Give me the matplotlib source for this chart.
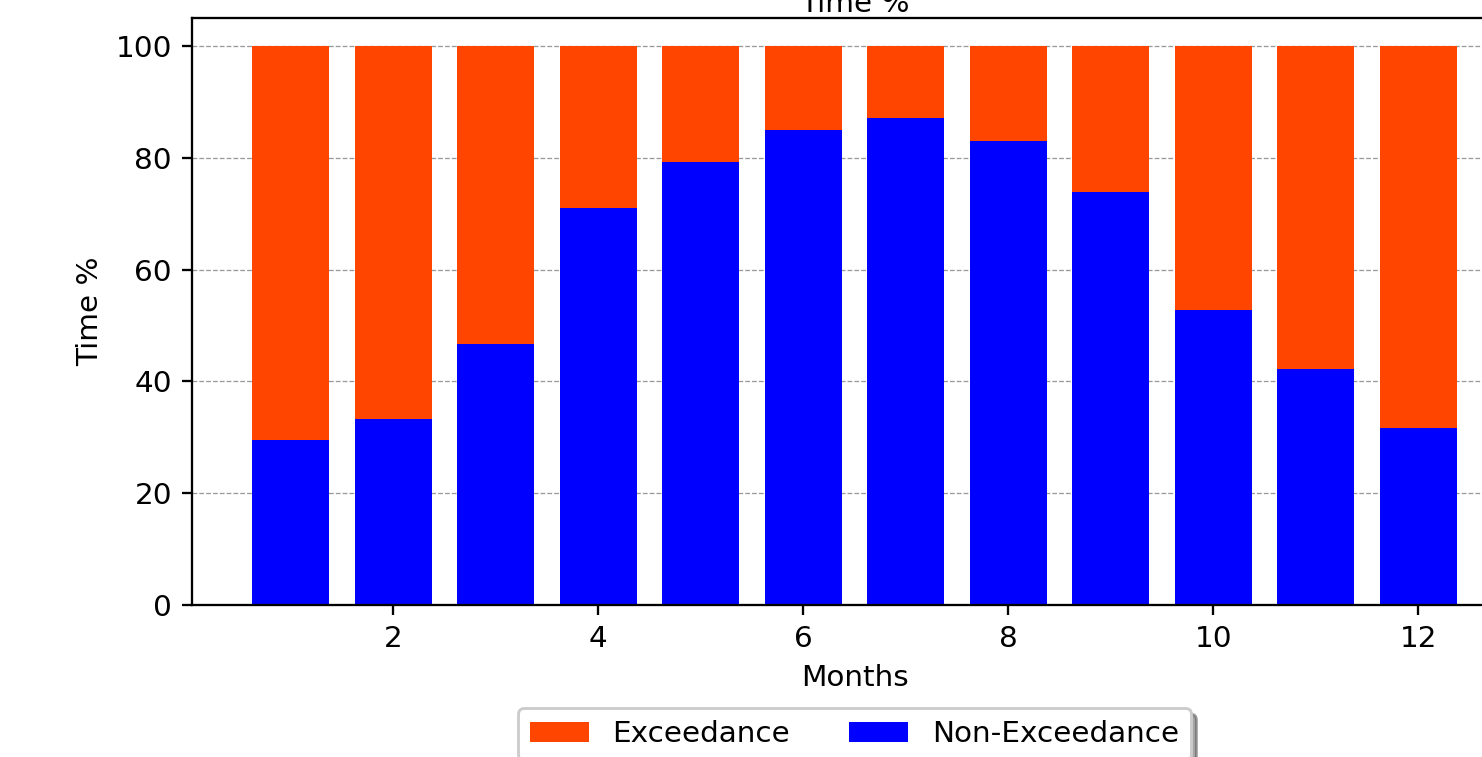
import matplotlib
matplotlib.use("Agg")
import matplotlib.pyplot as plt

months = [1, 2, 3, 4, 5, 6, 7, 8, 9, 10, 11, 12]
non_exceedance = [29.5, 33.3, 46.7, 71.0, 79.3, 85.0, 87.1, 83.0, 73.8, 52.7, 42.2, 31.7]
exceedance = [100 - v for v in non_exceedance]

plt.rcParams["font.size"] = 10.3

DPI = 206
fig = plt.figure(figsize=(1482 / DPI, 757 / DPI), dpi=DPI)
ax = fig.add_axes([0.1296, 0.2008, 0.894, 0.7754])

ax.set_axisbelow(True)
ax.yaxis.grid(True, linestyle="--", linewidth=0.45, color="gray", alpha=0.8)

b_non = ax.bar(months, non_exceedance, width=0.75, color="blue", label="Non-Exceedance")
b_exc = ax.bar(months, exceedance, width=0.75, bottom=non_exceedance,
               color="orangered", label="Exceedance")

ax.set_title("Time %", fontsize=10.3, pad=1)
ax.set_xlabel("Months")
ax.set_ylabel("Time %")

ax.legend(handles=[b_exc, b_non], loc="upper center", bbox_to_anchor=(0.5, -0.151),
          ncol=2, shadow=True, fancybox=True)

fig.savefig("out.png", dpi=DPI)
